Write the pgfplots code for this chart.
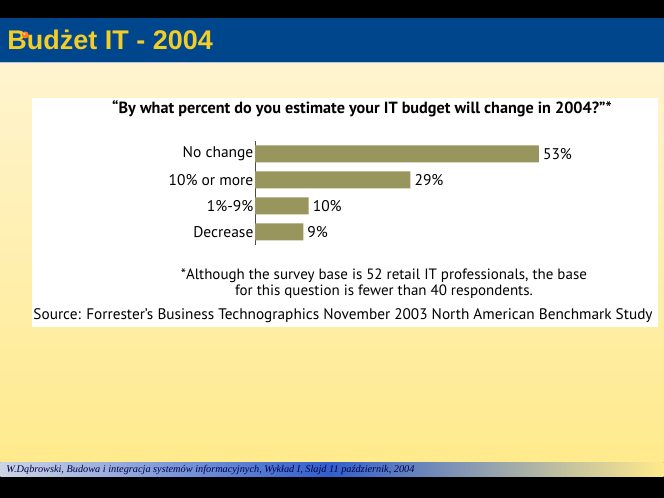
\documentclass[border=0pt]{standalone}
\usepackage{pgfplots}
\pgfplotsset{compat=1.18}
\usepackage{fontspec}
\setmainfont{PT Sans}
\newfontfamily\arialfont{Liberation Sans}
\newfontfamily\timesfont{Liberation Serif}
\definecolor{slideblue}{RGB}{0,70,140}
\definecolor{titleyellow}{RGB}{242,205,40}
\definecolor{creamtop}{RGB}{255,244,208}
\definecolor{creambot}{RGB}{255,234,140}
\definecolor{olivebar}{RGB}{152,150,92}
\definecolor{footblue}{RGB}{50,95,205}
\definecolor{footgray}{RGB}{205,212,228}
\begin{document}
\begin{tikzpicture}[x=1pt,y=-1pt]
% background
\fill[black] (0,0) rectangle (664,498);
\shade[shading=axis,shading angle=35,top color=creamtop,bottom color=creambot] (0,62) rectangle (664,463);
\fill[slideblue] (0,18) rectangle (664,62);
\draw[white!70!slideblue,line width=0.6pt] (0,62) -- (664,62);
\node[anchor=west,inner sep=0pt,text=titleyellow,font=\arialfont\bfseries\fontsize{27}{28}\selectfont] at (7,40) {Budżet IT - 2004};
\fill[orange!85!red!90] (25,35) circle (3.5);
\fill[white!60!orange] (24,34) circle (1.3);
% footer band
\shade[left color=footgray,right color=footblue] (0,463) rectangle (330,477);
\shade[left color=footblue,right color=creambot] (330,463) rectangle (664,477);
\node[anchor=west,inner sep=0pt,text=black!65!blue!80!black,font=\timesfont\itshape\fontsize{10.3}{11}\selectfont] at (6,470) {W.Dąbrowski, Budowa i integracja systemów informacyjnych, Wykład I, Slajd 11  październik, 2004};
% white panel
\fill[white] (32,98) rectangle (658,327);
\node[inner sep=0pt,font=\bfseries\fontsize{16.2}{18}\selectfont] at (362,109) {“By what percent do you estimate your IT budget will change in 2004?”*};
\node[inner sep=0pt,align=center,font=\fontsize{15}{16.5}\selectfont] at (384,284) {*Although the survey base is 52 retail IT professionals, the base\\for this question is fewer than 40 respondents.};
\node[inner sep=0pt,anchor=west,font=\fontsize{15.3}{17}\selectfont] at (33,316) {Source: Forrester’s Business Technographics November 2003 North American Benchmark Study};
\begin{axis}[
  at={(255pt,-245pt)}, anchor=south west,
  scale only axis, width=321.6pt, height=104pt,
  xbar, xmin=0, xmax=60, ymin=-0.5, ymax=3.5,
  bar width=17pt,
  axis x line=none,
  axis y line*=left,
  y axis line style={black!70,line width=0.8pt,-},
  ytick={0,1,2,3},
  yticklabels={Decrease,1\%-9\%,10\% or more,No change},
  major tick length=0pt,
  yticklabel style={font=\fontsize{15.5}{17}\selectfont,inner sep=1.5pt},
  /pgf/number format/assume math mode=true,
  nodes near coords={\pgfmathprintnumber{\pgfplotspointmeta}\%},
  nodes near coords style={font=\fontsize{15.5}{17}\selectfont,anchor=west,inner sep=2pt,xshift=2pt},
  point meta=x,
  clip=false,
]
\addplot[fill=olivebar,draw=none] coordinates {(9,0) (10,1) (29,2) (53,3)};
\end{axis}
\end{tikzpicture}
\end{document}
